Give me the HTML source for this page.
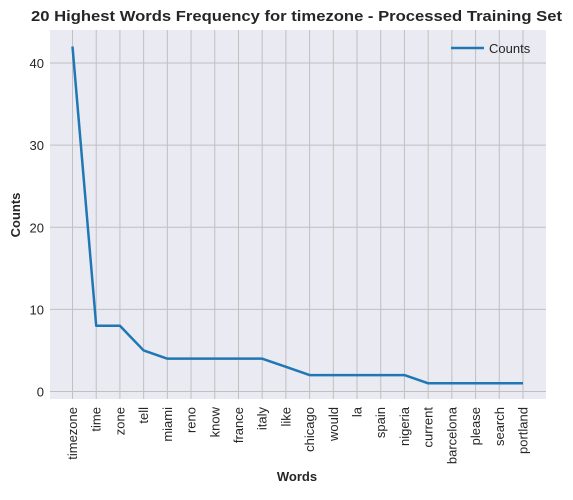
<!DOCTYPE html>
<html><head><meta charset="utf-8"><style>
body{margin:0;background:#fff;font-family:"Liberation Sans",Arial,sans-serif}
svg text{font-family:"Liberation Sans",Arial,sans-serif}
</style></head><body>
<svg id="chart" width="573" height="495" xmlns="http://www.w3.org/2000/svg">
<text x="31" y="21" textLength="531" lengthAdjust="spacingAndGlyphs" font-size="15" font-weight="bold" fill="#262626">20 Highest Words Frequency for timezone - Processed Training Set</text>
<rect x="50" y="30" width="496" height="369" fill="#eaeaf2"/>
<g id="grid"></g>
<g id="ticks"></g>
<polyline id="line" fill="none" stroke="#1f77b4" stroke-width="2.5" stroke-linejoin="round"/>
<text transform="translate(20,215) rotate(-90)" text-anchor="middle" font-size="13" font-weight="bold" fill="#262626">Counts</text>
<text x="297" y="481" text-anchor="middle" font-size="13" font-weight="bold" fill="#262626">Words</text>
<g>
<line x1="451" y1="48" x2="484" y2="48" stroke="#1f77b4" stroke-width="2.5"/>
<text x="489" y="53" font-size="13" fill="#262626">Counts</text>
</g>
</svg>
<script>
const categories=["timezone","time","zone","tell","miami","reno","know","france","italy","like","chicago","would","la","spain","nigeria","current","barcelona","please","search","portland"];
const counts=[42,8,8,5,4,4,4,4,4,3,2,2,2,2,2,1,1,1,1,1];
const yTicks=[0,10,20,30,40];
const NS="http://www.w3.org/2000/svg";
const x=i=>72.5+i*(523-72.5)/(categories.length-1);
const y=v=>391.5-v*(391.5-63)/40;
const grid=document.getElementById('grid'),ticks=document.getElementById('ticks');
function mk(t,a,p){const e=document.createElementNS(NS,t);for(const k in a)e.setAttribute(k,a[k]);p.appendChild(e);return e;}
yTicks.forEach(v=>{
const g=mk('line',{x1:50,x2:546,y1:y(v),y2:y(v),stroke:'#c0c0c0','stroke-width':1},grid);


const t=mk('text',{x:44,y:y(v)+5,'text-anchor':'end','font-size':13,fill:'#262626'},ticks);
t.textContent=v;


});
categories.forEach((c,i)=>{
const g=mk('line',{x1:x(i),x2:x(i),y1:30,y2:399,stroke:'#c0c0c0','stroke-width':1},grid);


const t=mk('text',{transform:`translate(${x(i)+4.5},407) rotate(-90)`,'text-anchor':'end','font-size':13,fill:'#262626'},ticks);
t.textContent=c;


});
document.getElementById('line').setAttribute('points',counts.map((v,i)=>x(i)+','+y(v)).join(' '));
</script>
</body></html>
